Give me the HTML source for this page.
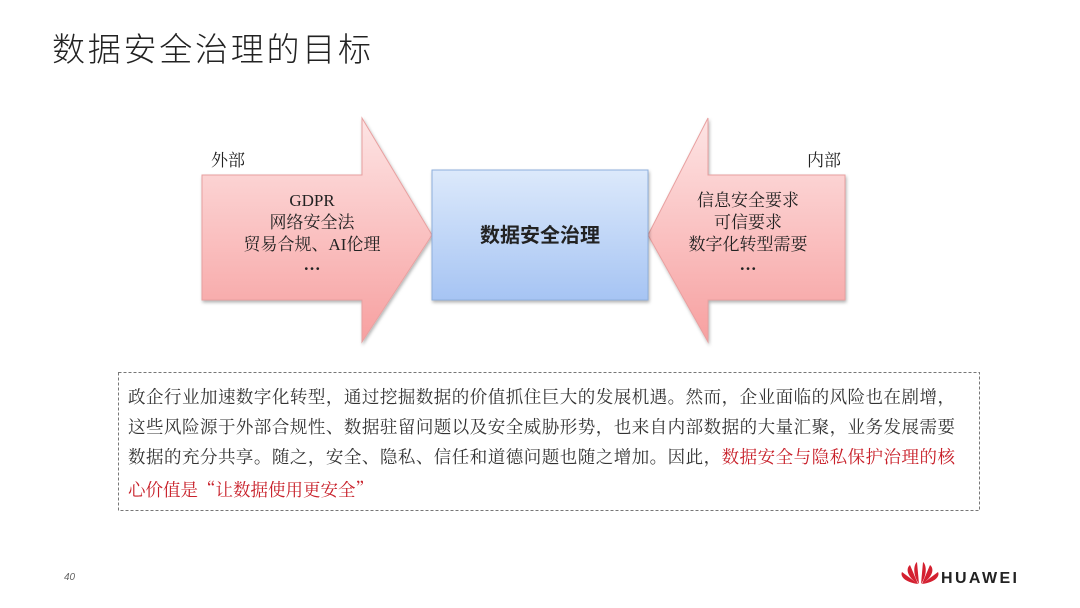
<!DOCTYPE html>
<html><head><meta charset="utf-8"><style>
body{margin:0;width:1080px;height:608px;background:#fff;overflow:hidden}
svg{display:block}
</style></head><body>
<svg width="1080" height="608" viewBox="0 0 1080 608" xmlns="http://www.w3.org/2000/svg">
<defs>
<linearGradient id="pk" x1="0" y1="0" x2="0" y2="1">
<stop offset="0" stop-color="#fde4e4"/><stop offset="1" stop-color="#f7a0a0"/></linearGradient>
<linearGradient id="bl" x1="0" y1="0" x2="0" y2="1">
<stop offset="0" stop-color="#dce9fb"/><stop offset="1" stop-color="#a6c4f3"/></linearGradient>
<filter id="sh" x="-10%" y="-10%" width="120%" height="120%"><feDropShadow dx="1" dy="2" stdDeviation="1.5" flood-opacity="0.3"/></filter>
</defs>
<text x="52" y="61" font-family="Noto Sans CJK SC, sans-serif" font-weight="300" font-size="33" fill="#222" textLength="319">数据安全治理的目标</text>

<polygon points="202,175 362,175 362,118 432,235 362,342 362,300 202,300" fill="url(#pk)" stroke="#e8a0a0" stroke-width="1" filter="url(#sh)"/>
<polygon points="845,175 708,175 708,118 648,235 708,342 708,300 845,300" fill="url(#pk)" stroke="#e8a0a0" stroke-width="1" filter="url(#sh)"/>
<rect x="432" y="170" width="216" height="130" fill="url(#bl)" stroke="#8fb0dd" stroke-width="1" filter="url(#sh)"/>

<g font-family="Liberation Serif, Noto Serif CJK SC, serif" font-size="17" fill="#222" text-anchor="middle">
<text x="228" y="166">外部</text>
<text x="824" y="166">内部</text>
<text x="312" y="206">GDPR</text>
<text x="312" y="228">网络安全法</text>
<text x="312" y="250">贸易合规、AI伦理</text>
<text x="312" y="270" font-weight="bold">…</text>
<text x="748" y="206">信息安全要求</text>
<text x="748" y="228">可信要求</text>
<text x="748" y="250">数字化转型需要</text>
<text x="748" y="270" font-weight="bold">…</text>
<text x="540" y="242" font-size="20" font-weight="bold" font-family="Noto Sans CJK SC, sans-serif">数据安全治理</text>
</g>

<rect x="118.5" y="372.5" width="861" height="138" fill="none" stroke="#777" stroke-width="1" stroke-dasharray="3,2"/>
<g font-family="Noto Serif CJK SC, serif" font-size="17.5" fill="#333">
<text x="128" y="403" textLength="827">政企行业加速数字化转型，通过挖掘数据的价值抓住巨大的发展机遇。然而，企业面临的风险也在剧增，</text>
<text x="128" y="433" textLength="827">这些风险源于外部合规性、数据驻留问题以及安全威胁形势，也来自内部数据的大量汇聚，业务发展需要</text>
<text x="128" y="463" textLength="827">数据的充分共享。随之，安全、隐私、信任和道德问题也随之增加。因此，<tspan fill="#c8202a">数据安全与隐私保护治理的核</tspan></text>
<text x="128" y="496" fill="#c8202a">心价值是“让数据使用更安全”</text>
</g>

<text x="64" y="580" font-family="Liberation Sans, sans-serif" font-style="italic" font-size="10" fill="#666">40</text>
<g transform="translate(920,584)" fill="#d42030">
<path d="M-2,0 C-16,-2 -20,-8 -18,-12 Z"/>
<path d="M-2,0 C-14,-8 -14,-16 -10,-19 Z"/>
<path d="M-1,0 C-8,-10 -6,-20 -3,-22 Z"/>
<path d="M1,0 C8,-10 6,-20 3,-22 Z"/>
<path d="M2,0 C14,-8 14,-16 10,-19 Z"/>
<path d="M2,0 C16,-2 20,-8 18,-12 Z"/>
</g>
<text x="941" y="583" font-family="Liberation Sans, sans-serif" font-weight="bold" font-size="16" fill="#222" textLength="76">HUAWEI</text>
</svg>
</body></html>
